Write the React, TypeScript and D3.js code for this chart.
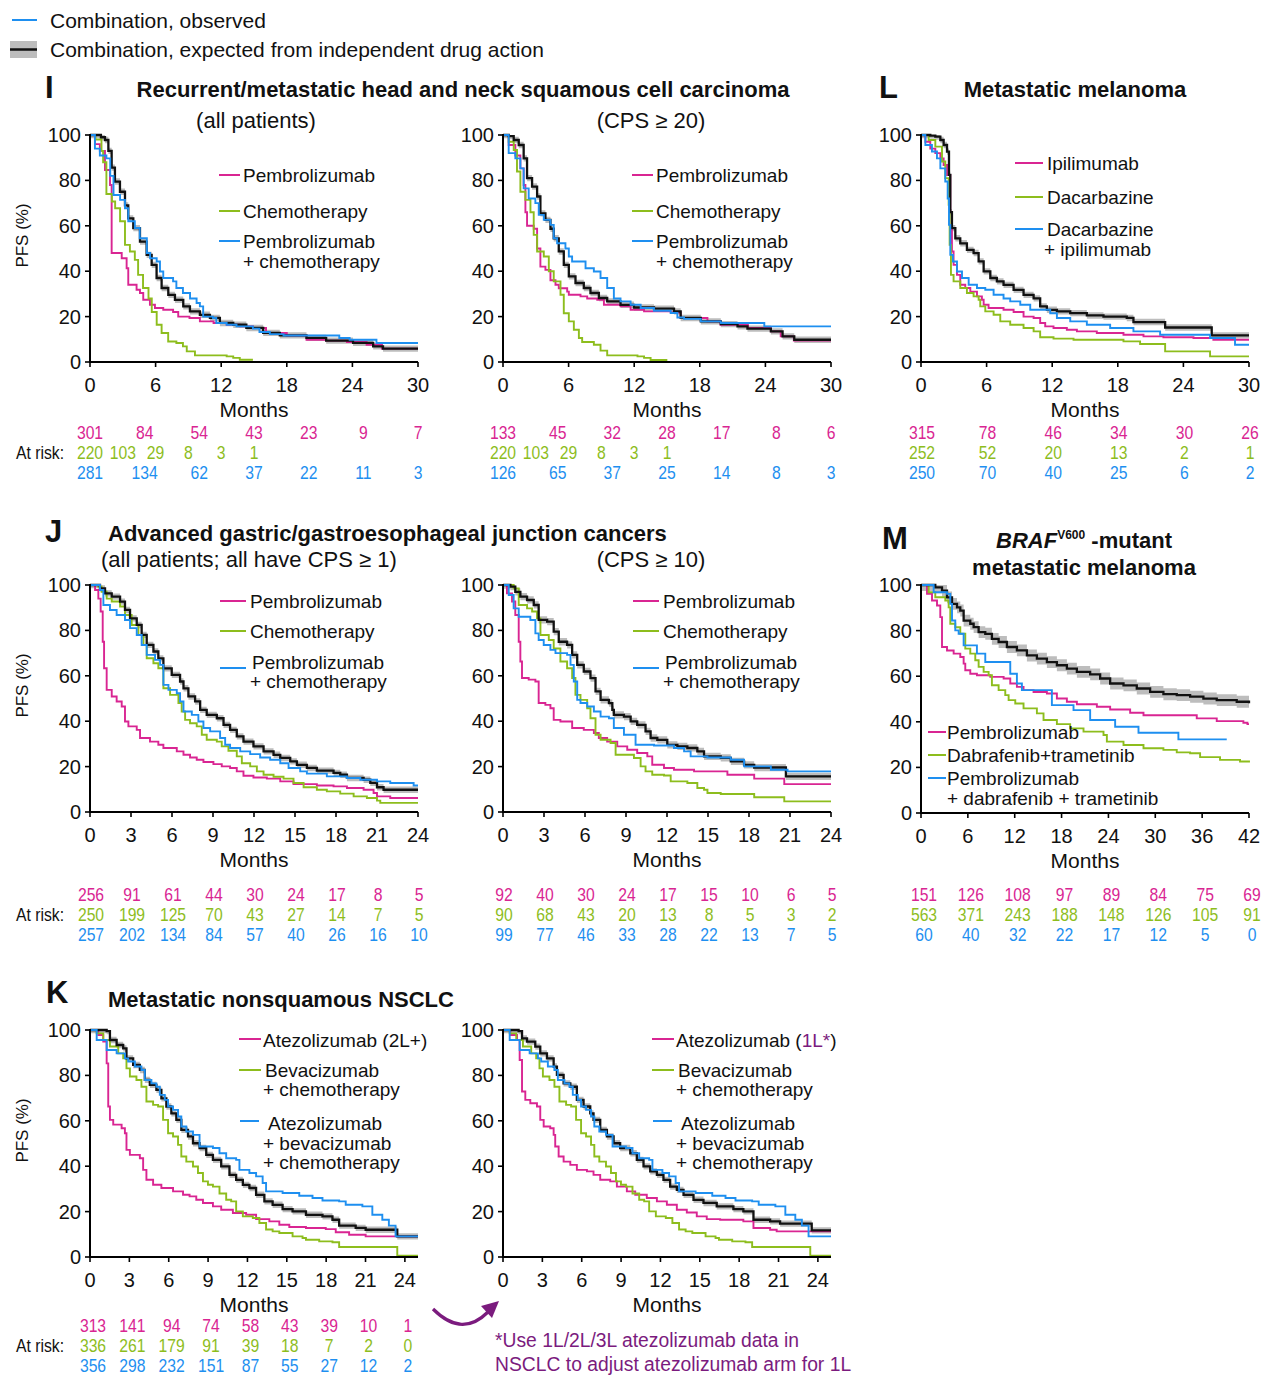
import * as d3 from "d3";
import type { ReactNode } from "react";

type Pt = [number, number];

const PINK = "#d92592";
const GREEN = "#8dbd1d";
const BLUE = "#1e8ff0";
const BLACK = "#111111";
const BAND = "#bdbdbd";
const PURPLE = "#7b1b7e";
const FONT = "'Liberation Sans', Arial, Helvetica, sans-serif";

// ---- I: head and neck, all patients (months, PFS %)
const hnAllPembro: Pt[] = [[0,100],[0.45,96],[0.9,93],[1.37,84.6],[1.83,78],[1.98,48],[2.9,45.7],[3.35,41.3],[3.5,34],[4.26,31.8],[4.57,30.4],[4.87,27.4],[5.48,25.2],[5.94,23.8],[6.7,23],[7.6,22],[8.07,20],[9.1,19.4],[10.05,17.9],[11.3,17.2],[12.5,16.4],[13.7,15.7],[14.9,15],[16.1,12.8],[18,11.7],[19.8,9.8],[21.6,9.4],[23.5,8.8],[25.3,7.6],[26.7,5.9],[30,5.9]];
const hnAllChemo: Pt[] = [[0,100],[0.5,98],[1.05,93],[1.2,88],[1.5,74],[2.0,70.7],[2.3,67.7],[2.75,62],[3.2,51.6],[3.65,48.7],[4.1,45],[4.4,38.4],[4.85,32.6],[5.35,28],[5.65,22],[6.1,16.4],[6.55,12.8],[7.15,9],[7.9,8.4],[8.5,6.9],[8.85,4.7],[9.6,2.9],[12.5,2.5],[13.1,1.8],[13.7,1],[14.9,1]];
const hnAllCombo: Pt[] = [[0,100],[0.45,94],[0.9,91],[1.5,89.7],[1.85,82],[2.15,73.6],[2.75,71.4],[3.2,67.7],[3.5,62],[4.1,59],[4.55,54.5],[5.2,48],[5.5,45.7],[6.1,44.3],[6.4,39.9],[6.7,37],[7.6,35.5],[7.9,32.6],[8.5,30.4],[9.15,28],[9.75,26],[10.05,24.5],[10.35,20],[11.25,19.4],[11.55,17.2],[12.5,16.4],[13.4,15.7],[14.9,14.7],[15.5,13.2],[16.45,12.3],[17.7,11.7],[22.8,10.6],[23.75,9.8],[26.2,8.4],[30,8.4]];
const hnAllExpected: Pt[] = [[0,100],[1.0,99],[1.37,97.8],[1.68,93],[1.98,85.6],[2.28,79.5],[2.74,75],[3.2,69],[3.5,63.3],[3.96,59],[4.57,53],[5.18,47.2],[5.64,42.8],[6.09,37],[6.55,32.6],[7.16,29.6],[7.77,27.4],[8.53,24.5],[9.14,22.3],[10.05,20.8],[10.97,19.4],[11.88,17.2],[13.1,16.4],[14.3,15],[15.84,12.8],[17.36,11.7],[19.8,10.6],[21.6,9.4],[24.06,8.4],[25.9,6.9],[26.8,5.9],[30,5.9]];

// ---- I: head and neck, CPS >= 20
const hnCpsPembro: Pt[] = [[0,100],[0.52,95.6],[1.13,91],[1.59,85.3],[1.89,78],[2.05,66],[2.2,60],[2.81,58.7],[3.12,50],[3.42,42],[3.88,40.6],[4.34,36],[4.8,34],[5.1,32.5],[5.87,31],[6.02,29.6],[7.09,28.9],[7.7,28],[8.62,27.4],[9.23,25.2],[10.75,24.5],[11.67,23],[12.9,22.3],[15.34,21.8],[16.25,19.4],[18.7,17.9],[19.9,16.4],[22.4,15],[24.5,13.5],[25.4,11.3],[26.6,9.4],[30,9.4]];
const hnCpsChemo: Pt[] = [[0,100],[0.52,97],[0.98,93.4],[1.28,83.9],[1.59,75],[2.05,71.4],[2.51,66],[2.81,56],[3.12,48.7],[3.73,46.5],[4.19,40],[4.64,35.5],[5.26,29.6],[5.56,21.5],[6.02,17.9],[6.48,14.2],[6.94,10.6],[7.24,8.8],[8.31,7.6],[8.92,5],[9.53,2.9],[12.3,2.5],[12.9,1.8],[13.5,0.9],[15.03,0.9]];
const hnCpsCombo: Pt[] = [[0,100],[0.52,92],[1.13,89.7],[1.59,85.3],[1.89,76.5],[2.35,72],[2.96,70],[3.27,64.8],[3.73,62.6],[4.34,60.4],[4.64,54.5],[4.95,52.3],[5.71,50],[6.02,46.5],[6.32,44.3],[7.55,41.3],[8.31,39.9],[8.92,37],[9.53,32.6],[10.14,28],[10.75,26.7],[11.67,25.2],[12.59,23.8],[13.81,22.6],[15.34,21.6],[15.95,19.6],[16.56,19],[18.09,17.9],[19.92,17.2],[23.9,15.7],[30,15.7]];
const hnCpsExpected: Pt[] = [[0,100],[0.52,99.5],[0.98,97.8],[1.44,95.6],[1.89,89.7],[2.2,81],[2.66,77.3],[3.12,72.9],[3.42,65.5],[3.88,62.6],[4.34,58.7],[4.64,54.5],[5.1,48.7],[5.56,42.8],[6.02,37.7],[6.63,34.8],[7.39,32.6],[8.0,30.4],[8.77,28.2],[9.53,26.7],[10.75,25.2],[11.98,24],[13.81,23.5],[15.64,22.3],[16.25,19.4],[18.09,17.9],[19.92,16.7],[21.45,15.7],[22.36,14.7],[24.5,13.5],[25.57,11.3],[26.64,9.8],[30,9.8]];

// ---- L: metastatic melanoma
const melIpi: Pt[] = [[0,100],[0.4,97],[0.85,94],[1.31,92],[1.77,89.7],[2.07,86.8],[2.38,82.4],[2.68,66],[2.83,48.7],[2.98,42.8],[3.29,38.4],[3.59,34],[4.05,32.6],[4.51,31],[5.12,28.9],[5.57,27.4],[5.73,25.2],[6.18,23.8],[7.55,23],[8.47,22],[9.38,20],[10.3,19.4],[10.9,17.2],[11.36,15.7],[12.12,15],[13.34,14.2],[14.26,13.5],[16.08,12.8],[18.52,12],[20.35,11.3],[22.17,10.9],[24.92,10.6],[26.74,9.8],[30,9.8]];
const melDac: Pt[] = [[0,100],[0.7,97.8],[1.31,94.9],[1.92,88.3],[2.22,81],[2.53,69.2],[2.62,51.6],[2.74,38.4],[2.98,35.5],[3.59,32.6],[4.2,30.4],[4.81,28.9],[5.27,27.4],[5.42,24.5],[5.88,22.3],[6.64,20.8],[7.25,17.9],[8.16,16.4],[9.38,15],[10.3,13.5],[10.9,10.9],[12.12,10.3],[13.95,9.8],[18.52,9.1],[20.04,7.9],[22.33,4.7],[26.44,2.5],[30,2.5]];
const melCombo: Pt[] = [[0,100],[0.4,95.6],[1.0,92.7],[1.46,89.7],[1.77,85.3],[2.22,79.5],[2.44,72],[2.56,60.4],[2.68,47.2],[2.92,44.3],[3.29,39.9],[3.75,37],[4.36,34],[5.12,32.6],[5.88,31.8],[6.64,29.6],[7.55,28],[8.16,26.7],[9.08,25.2],[9.99,23],[11.82,21.5],[12.43,19.4],[13.65,17.9],[15.17,16.4],[17.3,15],[19.43,13.5],[21.87,12],[26.44,10.6],[28.72,7.6],[30,7.6]];
const melExpected: Pt[] = [[0,100],[0.85,99.7],[1.31,99.3],[1.77,97.8],[2.07,95.6],[2.38,92.7],[2.56,82.4],[2.68,66],[2.83,59],[3.14,54.5],[3.59,52.3],[4.2,49.4],[4.81,48],[5.27,44.3],[5.73,39.9],[6.34,37],[6.94,35.5],[7.55,34],[8.47,31.8],[9.38,29.6],[10.3,28],[10.9,24.5],[11.51,23],[12.43,22.3],[13.65,21.5],[15.17,20.5],[16.69,20],[18.82,19.4],[19.43,17.6],[22.33,15.2],[26.59,11.7],[30,11.7]];

// ---- J: gastric, all patients
const gcAllPembro: Pt[] = [[0,100],[0.37,97.8],[0.61,94],[0.78,88.3],[0.93,75],[1.03,63.3],[1.22,53.8],[1.59,50.9],[1.95,48.7],[2.32,46.5],[2.56,39.9],[2.81,37.7],[3.42,36.2],[3.66,32.6],[4.39,31],[5.0,29.6],[5.37,28.2],[6.35,26.7],[6.84,25.2],[7.32,24],[7.81,23],[8.3,22],[9.03,21.1],[9.64,20.1],[10.25,19.4],[10.74,17.9],[11.23,16],[11.96,15.2],[12.94,14.7],[13.92,13.5],[14.89,12.3],[16.6,11.7],[17.82,11.3],[18.8,10.6],[20.02,9.8],[20.75,8.4],[21.0,6.9],[21.97,6.2],[24,6.2]];
const gcAllChemo: Pt[] = [[0,100],[0.61,99.3],[0.85,97],[1.22,94],[1.59,92.7],[2.2,90.5],[2.56,86.8],[3.05,82.4],[3.54,78],[3.91,73.6],[4.15,67.7],[4.64,65.5],[5.0,63.3],[5.37,54.5],[5.86,51.6],[6.47,48],[6.71,44.3],[6.96,40.6],[7.32,39.1],[7.81,37.7],[8.18,34],[8.54,31.8],[9.28,31],[9.64,28.9],[10.13,27],[10.74,24.5],[11.11,21.5],[11.72,20.1],[12.21,17.9],[12.7,16.4],[13.43,15.5],[14.16,14.7],[14.89,12.8],[15.63,10.9],[16.6,9.8],[17.33,9.1],[18.31,8.1],[19.29,6.9],[20.26,6.2],[21.0,5],[21.24,4],[24,4]];
const gcAllCombo: Pt[] = [[0,100],[0.73,97.8],[0.98,91.2],[1.46,89],[1.95,86.8],[2.56,84.6],[2.93,81],[3.42,78],[3.78,73.6],[4.15,69.2],[4.76,67],[5.13,64.8],[5.37,56],[5.74,53.8],[6.35,52.3],[6.59,48.7],[6.84,44.3],[7.45,42.8],[7.93,39.9],[8.3,37],[8.79,35.5],[9.52,32.6],[9.89,29.6],[10.25,28.2],[10.99,26.7],[11.72,25.5],[12.45,24],[13.18,23],[13.92,21.5],[14.53,19.4],[15.38,17.9],[15.87,16.9],[17.33,15.7],[18.8,15],[19.78,14.2],[21.0,13.5],[21.97,12.8],[23.68,11.7],[24,11.7]];
const gcAllExpected: Pt[] = [[0,100],[0.73,98.5],[1.1,96.3],[1.59,94.9],[2.2,92.7],[2.56,89],[2.93,85.3],[3.42,82.4],[3.78,78],[4.15,73.6],[4.64,70.7],[5.0,67.7],[5.37,63.3],[5.98,60.4],[6.59,57.5],[6.84,54.5],[7.2,50.9],[7.69,48.7],[8.06,45],[8.54,42.8],[9.28,41.3],[9.77,38.4],[10.25,36.2],[10.74,33.3],[11.23,31],[11.96,28.9],[12.7,26.7],[13.43,25.2],[13.92,23.8],[14.65,22.3],[15.14,20.8],[15.87,19.4],[16.6,18.2],[17.82,17.2],[18.31,16.4],[18.8,15],[20.02,14.2],[20.51,12.8],[21.0,10.9],[21.48,9.8],[24,9.8]];

// ---- J: gastric, CPS >= 10
const gcCpsPembro: Pt[] = [[0,100],[0.29,96.3],[0.66,92.7],[0.9,86.8],[1.15,75],[1.27,66.3],[1.39,59],[1.88,58.3],[2.37,57.5],[2.61,48],[3.1,47.2],[3.47,45.7],[3.71,40.6],[4.2,39.9],[5.06,37],[5.91,36.2],[6.65,34.8],[7.01,32.6],[7.62,31],[8.36,28.9],[9.09,27.4],[9.82,26],[10.56,24.5],[10.92,20.8],[11.78,19.4],[12.51,18.6],[13.98,17.9],[16.42,16.4],[18.38,14.7],[20.58,12.3],[24,12.3]];
const gcCpsChemo: Pt[] = [[0,100],[0.78,98.5],[1.15,91.2],[1.76,89.7],[2.13,88.3],[2.49,85.3],[2.74,78],[3.35,75.8],[3.71,72],[4.2,66.3],[4.69,63.3],[5.06,59],[5.3,51.6],[5.67,49.4],[6.16,45.7],[6.4,41.3],[6.77,34],[7.14,31.8],[7.87,30.4],[8.24,25.2],[9.58,23.8],[10.07,20.1],[10.43,17.9],[10.92,16.4],[11.78,16.1],[12.27,13.5],[13.49,12.8],[14.22,10.6],[14.71,9.8],[14.96,8.4],[15.93,7.9],[18.38,6.5],[20.58,4.7],[24,4.7]];
const gcCpsCombo: Pt[] = [[0,100],[0.42,95.6],[0.78,89.7],[1.15,86],[2.0,84.6],[2.37,78.7],[2.61,75.8],[2.98,73.6],[3.47,71.4],[3.84,70],[4.69,69.2],[4.94,64.8],[5.18,57.5],[5.43,49.4],[5.67,48],[6.16,46.5],[6.65,44.3],[7.14,42],[7.75,41.3],[8.11,37],[8.85,34],[9.7,29.6],[11.05,29.3],[12.51,28.2],[13.25,26.7],[13.73,24.5],[14.96,24],[16.67,23],[17.64,20.1],[19.6,18.6],[20.82,17.9],[24,17.9]];
const gcCpsExpected: Pt[] = [[0,100],[0.54,99.3],[0.9,97],[1.27,94.9],[1.76,93.4],[2.25,91.2],[2.61,84.6],[3.23,83.9],[3.71,79.5],[4.08,75],[4.69,73.6],[5.06,69.2],[5.43,64.8],[5.91,61.9],[6.4,59],[6.77,53.1],[7.14,49.4],[7.75,48],[8.0,45],[8.11,42.8],[8.85,42],[9.34,39.9],[9.82,38.4],[10.43,35.5],[10.8,32.6],[11.29,31.8],[12.02,29.6],[12.76,28.9],[13.49,28.2],[14.22,26.7],[14.71,24.5],[15.93,23.8],[16.67,22.3],[17.64,20.8],[18.38,19.6],[20.7,15.7],[24,15.7]];

// ---- M: BRAF V600-mutant melanoma
const brafPembro: Pt[] = [[0,100],[0.77,96.1],[1.41,93.2],[2.05,91],[2.47,85.9],[2.69,72.8],[3.33,71.3],[4.18,69.9],[5.03,68.4],[5.46,65.5],[5.67,62.6],[6.31,61.1],[7.16,60.4],[8.87,59.7],[10.58,59],[11.43,56.8],[12.28,55.3],[13.13,53.9],[14.41,53.1],[16.12,52.4],[17.4,50.2],[18.68,48.8],[19.96,47.7],[22.52,46.6],[24.22,45.4],[26.78,44],[28.49,42.9],[35.31,41.5],[37.87,40.3],[41.28,39.6],[41.8,39],[42,39]];
const brafDabTram: Pt[] = [[0,100],[0.98,96.8],[1.83,94.6],[3.11,93.2],[3.54,90.2],[3.75,83],[4.39,81.5],[5.03,78.6],[5.67,72.1],[6.31,69.9],[6.95,67],[7.38,64.1],[8.02,61.9],[8.66,60.4],[9.08,56],[9.94,53.9],[10.79,51.7],[11.22,49.5],[12.07,48],[13.13,45.9],[14.84,43.7],[15.69,40.8],[17.4,39],[19.1,37.1],[20.81,35.7],[23.37,34.2],[23.8,31.3],[25.93,29.8],[28.49,28.4],[31.04,27.7],[32.75,26.6],[34.46,26.2],[35.74,24.5],[38.29,23.3],[40.85,22.6],[42,22.1]];
const brafCombo: Pt[] = [[0,100],[1.62,96.8],[3.33,96.1],[3.75,91.7],[3.97,84.4],[4.39,80.1],[4.82,78.6],[5.46,73.5],[7.16,69.9],[8.23,66.2],[11.43,61.1],[12.28,56.8],[12.92,53.9],[16.76,47.3],[19.53,45.1],[21.66,40.8],[24.86,37.8],[27.85,35.2],[32.96,32.3],[39.15,32.3]];
const brafExpected: Pt[] = [[0,100],[1.83,99],[2.69,97.5],[3.33,94.6],[3.97,91.7],[4.61,90.2],[5.03,88.8],[5.46,84.4],[6.31,83],[6.74,81.5],[7.38,79.3],[8.23,78.6],[9.08,76.4],[9.94,75],[11.0,72.8],[12.28,71.3],[13.56,69.1],[14.84,67.7],[16.12,66.2],[17.4,64.8],[18.68,63.3],[19.96,61.9],[21.66,60.8],[22.94,59],[24.22,56.8],[25.93,56],[27.63,54.6],[29.34,53.1],[31.04,52.1],[32.75,51.7],[34.46,51],[36.16,50.2],[37.87,49.5],[40.43,48.8],[42,48.1]];

// ---- K: nonsquamous NSCLC
const nsclcAtezo2L: Pt[] = [[0,100],[0.63,97.8],[1.01,94.9],[1.27,85.3],[1.39,66.3],[1.52,60.4],[1.77,58.3],[2.41,56.7],[2.66,54.5],[2.78,47.2],[3.04,45],[3.8,43.5],[4.05,38.4],[4.3,34],[4.81,31.8],[5.44,30.4],[6.33,28.9],[7.09,27.4],[7.59,26.7],[8.1,25.2],[8.61,23.8],[9.37,22.3],[10.0,20.8],[10.89,19.4],[11.9,18.6],[12.66,16.7],[13.67,15.7],[14.43,14.2],[15.19,13.2],[16.46,12.8],[17.97,12.3],[18.73,10.9],[19.75,9.8],[21.01,9.1],[25,9.1]];
const nsclcBevChemo: Pt[] = [[0,100],[0.51,98.5],[1.01,95.6],[1.52,92.7],[2.15,89.7],[2.53,87.5],[2.78,83.1],[3.04,79.5],[3.54,78],[3.92,75],[4.3,68.5],[4.81,67],[5.19,66.3],[5.57,60.4],[5.95,54.5],[6.33,53.1],[6.71,49.4],[6.96,44.3],[7.34,42],[7.85,39.9],[8.23,37],[8.61,33.3],[8.99,31.8],[9.37,31],[9.87,28],[10.38,25.2],[10.76,24.5],[11.14,20.1],[11.65,17.9],[12.41,17.2],[12.91,15],[13.42,12.1],[13.92,11.3],[14.43,10.6],[15.44,9.1],[16.2,8.4],[16.46,7.6],[17.47,6.9],[18.48,6.5],[18.99,4.4],[23.42,0.6],[25,0.6]];
const nsclcCombo: Pt[] = [[0,100],[0.51,95.6],[1.27,91.2],[2.03,89.7],[2.66,87.5],[2.91,86.1],[3.42,83.9],[3.92,82.4],[4.18,78],[4.68,76.5],[5.06,75],[5.32,71.4],[5.7,69.2],[5.95,66.3],[6.33,64.8],[6.71,61.9],[6.96,57.5],[7.34,55.3],[7.85,53.8],[8.35,48.7],[9.37,48],[9.87,45.7],[10.38,43.5],[11.14,42.8],[11.39,38.4],[12.15,37],[12.66,35.5],[13.16,32.6],[13.42,28.9],[14.68,28.2],[15.95,27],[16.96,26],[17.72,24.9],[18.99,24.5],[19.49,23],[20.76,22.3],[21.52,18.6],[22.28,16.4],[22.78,13.8],[23.29,9.1],[25,9.1]];
const nsclcExpected2L: Pt[] = [[0,100],[1.27,99.5],[1.52,95.6],[2.03,93.4],[2.53,91.9],[2.78,87.5],[3.29,84.6],[3.8,82.4],[4.18,78],[4.56,75.8],[5.06,73.6],[5.44,69.9],[5.82,66.3],[6.2,63.3],[6.58,60.4],[6.96,56],[7.47,53.1],[7.85,50.1],[8.35,48],[8.86,45],[9.37,42.8],[10.0,39.9],[10.63,36.2],[11.14,34],[11.65,31.8],[12.15,30.4],[12.66,27.4],[13.29,24.5],[13.92,23],[14.68,21.1],[15.44,20.1],[16.46,18.6],[17.72,17.9],[18.48,16.4],[18.99,13.8],[20.25,12.8],[21.01,12],[23.42,9.1],[25,9.1]];
const nsclcAtezo1L: Pt[] = [[0,100],[0.56,97.8],[1.07,95.6],[1.27,86.8],[1.45,72.9],[1.7,69.2],[2.08,67.7],[2.59,66.3],[2.84,60.4],[3.1,57.5],[3.6,56.7],[3.86,53.8],[3.98,48.7],[4.24,44.3],[4.62,42],[5.13,40.6],[5.63,38.4],[6.4,37.7],[6.9,36.2],[7.41,34],[8.17,33.3],[8.68,31],[9.44,28.9],[10.08,27.4],[10.96,26],[11.73,24.5],[12.49,23],[13.25,20.8],[14.01,19.6],[14.77,17.9],[15.53,16.7],[16.55,16.4],[18.32,15.7],[19.09,12.8],[20.36,12],[20.86,11.3],[25,11.3]];
const nsclcExpected1L: Pt[] = [[0,100],[1.19,99.5],[1.45,96.3],[1.83,94.9],[2.46,92.7],[2.84,89.7],[3.35,87.5],[3.86,83.9],[4.11,80.2],[4.62,76.5],[5.13,75],[5.63,69.2],[6.14,66.3],[6.65,63.3],[6.9,60.4],[7.41,56],[7.92,53.1],[8.43,50.1],[8.93,48],[9.7,45.7],[10.2,42.8],[10.71,39.9],[11.22,37.7],[11.73,36.2],[12.23,34],[12.74,31],[13.25,29.6],[13.76,27.4],[14.52,25.2],[15.28,23.8],[16.29,22.3],[17.56,21.1],[18.32,20.1],[19.09,16.4],[20.36,15.7],[21.12,14.7],[23.53,11.7],[25,11.7]];

// ---- ticks and numbers at risk
const yTicks = [0, 20, 40, 60, 80, 100];
const ticks30 = [0, 6, 12, 18, 24, 30];
const ticks24 = [0, 3, 6, 9, 12, 15, 18, 21, 24];
const ticks42 = [0, 6, 12, 18, 24, 30, 36, 42];

const hnRiskTimes5 = [0, 5, 10, 15, 20, 25, 30];
const hnRiskTimes3 = [0, 3, 6, 9, 12, 15];
const hnAllRiskPembro = [301, 84, 54, 43, 23, 9, 7];
const hnAllRiskChemo = [220, 103, 29, 8, 3, 1];
const hnAllRiskCombo = [281, 134, 62, 37, 22, 11, 3];
const hnCpsRiskPembro = [133, 45, 32, 28, 17, 8, 6];
const hnCpsRiskChemo = [220, 103, 29, 8, 3, 1];
const hnCpsRiskCombo = [126, 65, 37, 25, 14, 8, 3];
const melRiskTimes = [0, 6, 12, 18, 24, 30];
const melRiskIpi = [315, 78, 46, 34, 30, 26];
const melRiskDac = [252, 52, 20, 13, 2, 1];
const melRiskCombo = [250, 70, 40, 25, 6, 2];
const gcAllRiskPembro = [256, 91, 61, 44, 30, 24, 17, 8, 5];
const gcAllRiskChemo = [250, 199, 125, 70, 43, 27, 14, 7, 5];
const gcAllRiskCombo = [257, 202, 134, 84, 57, 40, 26, 16, 10];
const gcCpsRiskPembro = [92, 40, 30, 24, 17, 15, 10, 6, 5];
const gcCpsRiskChemo = [90, 68, 43, 20, 13, 8, 5, 3, 2];
const gcCpsRiskCombo = [99, 77, 46, 33, 28, 22, 13, 7, 5];
const brafRiskPembro = [151, 126, 108, 97, 89, 84, 75, 69];
const brafRiskDabTram = [563, 371, 243, 188, 148, 126, 105, 91];
const brafRiskCombo = [60, 40, 32, 22, 17, 12, 5, 0];
const nsclcRiskAtezo = [313, 141, 94, 74, 58, 43, 39, 10, 1];
const nsclcRiskBevChemo = [336, 261, 179, 91, 39, 18, 7, 2, 0];
const nsclcRiskCombo = [356, 298, 232, 151, 87, 55, 27, 12, 2];

type Legend = { color: string; x1: number; x2: number; y: number; lines: [number, number, ReactNode][] };
type Risk = { color: string; times: number[]; vals: number[]; dx?: number };
type PanelDef = {
  x0: number; top: number; bottom: number; xMax: number; xTicks: number[];
  pink: Pt[]; green: Pt[]; blue: Pt[]; black: Pt[]; band: number;
  pfs: boolean; riskY: number; risk: Risk[]; legend: Legend[];
};

const W = 328;

const hnLegend = (dx: number): Legend[] => [
  { color: PINK, x1: 219 + dx, x2: 240 + dx, y: 175, lines: [[243 + dx, 182, "Pembrolizumab"]] },
  { color: GREEN, x1: 219 + dx, x2: 240 + dx, y: 211, lines: [[243 + dx, 218, "Chemotherapy"]] },
  { color: BLUE, x1: 219 + dx, x2: 240 + dx, y: 241, lines: [[243 + dx, 248, "Pembrolizumab"], [243 + dx, 268, "+ chemotherapy"]] },
];
const gcLegend = (dx: number): Legend[] => [
  { color: PINK, x1: 220 + dx, x2: 246 + dx, y: 601, lines: [[250 + dx, 608, "Pembrolizumab"]] },
  { color: GREEN, x1: 220 + dx, x2: 246 + dx, y: 631, lines: [[250 + dx, 638, "Chemotherapy"]] },
  { color: BLUE, x1: 220 + dx, x2: 246 + dx, y: 668, lines: [[252 + dx, 669, "Pembrolizumab"], [250 + dx, 688, "+ chemotherapy"]] },
];
const nsclcLegend = (dx: number, first: ReactNode): Legend[] => [
  { color: PINK, x1: 239 + dx, x2: 261 + dx, y: 1039, lines: [[263 + dx, 1047, first]] },
  { color: GREEN, x1: 239 + dx, x2: 261 + dx, y: 1070, lines: [[265 + dx, 1077, "Bevacizumab"], [263 + dx, 1096, "+ chemotherapy"]] },
  { color: BLUE, x1: 240 + dx, x2: 259 + dx, y: 1121, lines: [[268 + dx, 1130, "Atezolizumab"], [263 + dx, 1150, "+ bevacizumab"], [263 + dx, 1169, "+ chemotherapy"]] },
];

const panels: PanelDef[] = [
  {
    x0: 90, top: 135, bottom: 362, xMax: 30, xTicks: ticks30,
    pink: hnAllPembro, green: hnAllChemo, blue: hnAllCombo, black: hnAllExpected, band: 1.4,
    pfs: true, riskY: 439,
    risk: [
      { color: PINK, times: hnRiskTimes5, vals: hnAllRiskPembro },
      { color: GREEN, times: hnRiskTimes3, vals: hnAllRiskChemo },
      { color: BLUE, times: hnRiskTimes5, vals: hnAllRiskCombo },
    ],
    legend: hnLegend(0),
  },
  {
    x0: 503, top: 135, bottom: 362, xMax: 30, xTicks: ticks30,
    pink: hnCpsPembro, green: hnCpsChemo, blue: hnCpsCombo, black: hnCpsExpected, band: 1.4,
    pfs: false, riskY: 439,
    risk: [
      { color: PINK, times: hnRiskTimes5, vals: hnCpsRiskPembro },
      { color: GREEN, times: hnRiskTimes3, vals: hnCpsRiskChemo },
      { color: BLUE, times: hnRiskTimes5, vals: hnCpsRiskCombo },
    ],
    legend: hnLegend(413),
  },
  {
    x0: 921, top: 135, bottom: 362, xMax: 30, xTicks: ticks30,
    pink: melIpi, green: melDac, blue: melCombo, black: melExpected, band: 1.4,
    pfs: false, riskY: 439,
    risk: [
      { color: PINK, times: melRiskTimes, vals: melRiskIpi, dx: 1 },
      { color: GREEN, times: melRiskTimes, vals: melRiskDac, dx: 1 },
      { color: BLUE, times: melRiskTimes, vals: melRiskCombo, dx: 1 },
    ],
    legend: [
      { color: PINK, x1: 1015, x2: 1043, y: 163, lines: [[1047, 170, "Ipilimumab"]] },
      { color: GREEN, x1: 1015, x2: 1043, y: 197, lines: [[1047, 204, "Dacarbazine"]] },
      { color: BLUE, x1: 1015, x2: 1043, y: 229, lines: [[1047, 236, "Dacarbazine"], [1044, 256, "+ ipilimumab"]] },
    ],
  },
  {
    x0: 90, top: 585, bottom: 812, xMax: 24, xTicks: ticks24,
    pink: gcAllPembro, green: gcAllChemo, blue: gcAllCombo, black: gcAllExpected, band: 1.4,
    pfs: true, riskY: 901,
    risk: [
      { color: PINK, times: ticks24, vals: gcAllRiskPembro, dx: 1 },
      { color: GREEN, times: ticks24, vals: gcAllRiskChemo, dx: 1 },
      { color: BLUE, times: ticks24, vals: gcAllRiskCombo, dx: 1 },
    ],
    legend: gcLegend(0),
  },
  {
    x0: 503, top: 585, bottom: 812, xMax: 24, xTicks: ticks24,
    pink: gcCpsPembro, green: gcCpsChemo, blue: gcCpsCombo, black: gcCpsExpected, band: 1.6,
    pfs: false, riskY: 901,
    risk: [
      { color: PINK, times: ticks24, vals: gcCpsRiskPembro, dx: 1 },
      { color: GREEN, times: ticks24, vals: gcCpsRiskChemo, dx: 1 },
      { color: BLUE, times: ticks24, vals: gcCpsRiskCombo, dx: 1 },
    ],
    legend: gcLegend(413),
  },
  {
    x0: 921, top: 585, bottom: 813, xMax: 42, xTicks: ticks42,
    pink: brafPembro, green: brafDabTram, blue: brafCombo, black: brafExpected, band: 2.6,
    pfs: false, riskY: 901,
    risk: [
      { color: PINK, times: ticks42, vals: brafRiskPembro, dx: 3 },
      { color: GREEN, times: ticks42, vals: brafRiskDabTram, dx: 3 },
      { color: BLUE, times: ticks42, vals: brafRiskCombo, dx: 3 },
    ],
    legend: [
      { color: PINK, x1: 928, x2: 946, y: 732, lines: [[947, 739, "Pembrolizumab"]] },
      { color: GREEN, x1: 928, x2: 946, y: 755, lines: [[947, 762, "Dabrafenib+trametinib"]] },
      { color: BLUE, x1: 928, x2: 946, y: 778, lines: [[947, 785, "Pembrolizumab"], [947, 805, "+ dabrafenib + trametinib"]] },
    ],
  },
  {
    x0: 90, top: 1030, bottom: 1257, xMax: 25, xTicks: ticks24,
    pink: nsclcAtezo2L, green: nsclcBevChemo, blue: nsclcCombo, black: nsclcExpected2L, band: 1.4,
    pfs: true, riskY: 1332,
    risk: [
      { color: PINK, times: ticks24, vals: nsclcRiskAtezo, dx: 3 },
      { color: GREEN, times: ticks24, vals: nsclcRiskBevChemo, dx: 3 },
      { color: BLUE, times: ticks24, vals: nsclcRiskCombo, dx: 3 },
    ],
    legend: nsclcLegend(0, "Atezolizumab (2L+)"),
  },
  {
    x0: 503, top: 1030, bottom: 1257, xMax: 25, xTicks: ticks24,
    pink: nsclcAtezo1L, green: nsclcBevChemo, blue: nsclcCombo, black: nsclcExpected1L, band: 1.4,
    pfs: false, riskY: 0, risk: [],
    legend: nsclcLegend(
      413,
      <>
        {"Atezolizumab ("}
        <tspan fill={PURPLE}>1L*</tspan>
        {")"}
      </>
    ),
  },
];

function Panel({ p }: { p: PanelDef }) {
  const x = d3.scaleLinear().domain([0, p.xMax]).range([p.x0, p.x0 + W]);
  const y = d3.scaleLinear().domain([0, 100]).range([p.bottom, p.top]);
  const line = d3.line<Pt>().x((d) => x(d[0])).y((d) => y(d[1])).curve(d3.curveStepAfter);
  const band = d3
    .area<Pt>()
    .x((d) => x(d[0]))
    .y0((d) => y(Math.max(0, d[1] - p.band)))
    .y1((d) => y(Math.min(100, d[1] + p.band)))
    .curve(d3.curveStepAfter);
  const mid = p.x0 + W / 2;
  return (
    <g>
      <path d={band(p.black) ?? ""} fill={BAND} />
      <path d={line(p.pink) ?? ""} fill="none" stroke={PINK} strokeWidth={1.9} />
      <path d={line(p.green) ?? ""} fill="none" stroke={GREEN} strokeWidth={1.9} />
      <path d={line(p.black) ?? ""} fill="none" stroke={BLACK} strokeWidth={2.3} />
      <path d={line(p.blue) ?? ""} fill="none" stroke={BLUE} strokeWidth={1.9} />

      {/* axes */}
      <line x1={p.x0} x2={p.x0} y1={y(100) - 1} y2={y(0) + 1} stroke="#000" strokeWidth={2} />
      <line x1={p.x0 - 1} x2={p.x0 + W} y1={y(0)} y2={y(0)} stroke="#000" strokeWidth={2} />
      {yTicks.map((t) => (
        <g key={"y" + t}>
          <line x1={p.x0 - 5} x2={p.x0} y1={y(t)} y2={y(t)} stroke="#000" strokeWidth={1.6} />
          <text x={p.x0 - 9} y={y(t) + 7} textAnchor="end" fontSize={20}>{t}</text>
        </g>
      ))}
      {p.xTicks.map((t) => (
        <g key={"x" + t}>
          <line x1={x(t)} x2={x(t)} y1={y(0)} y2={y(0) + 5} stroke="#000" strokeWidth={1.6} />
          <text x={x(t)} y={p.bottom + 30} textAnchor="middle" fontSize={20}>{t}</text>
        </g>
      ))}
      <text x={mid} y={p.bottom + 55} textAnchor="middle" fontSize={21}>Months</text>
      {p.pfs && (
        <text transform={`translate(28,${(p.top + p.bottom) / 2 - 13}) rotate(-90)`} textAnchor="middle" fontSize={17}>
          PFS (%)
        </text>
      )}

      {/* legend */}
      {p.legend.map((l, i) => (
        <g key={"l" + i}>
          <line x1={l.x1} x2={l.x2} y1={l.y} y2={l.y} stroke={l.color} strokeWidth={2} />
          {l.lines.map(([tx, ty, s], j) => (
            <text key={j} x={tx} y={ty} fontSize={19}>{s}</text>
          ))}
        </g>
      ))}

      {/* numbers at risk */}
      {p.risk.map((r, i) =>
        r.vals.map((v, j) => (
          <text
            key={`r${i}-${j}`}
            transform={`translate(${x(r.times[j]) + (r.dx ?? 0)},${p.riskY + i * 20}) scale(0.85,1)`}
            textAnchor="middle"
            fontSize={18.5}
            fill={r.color}
          >
            {v}
          </text>
        ))
      )}
      {p.pfs && p.risk.length > 0 && (
        <text transform={`translate(16,${p.riskY + 20}) scale(0.85,1)`} fontSize={18.5}>At risk:</text>
      )}
    </g>
  );
}

export default function App() {
  return (
    <svg
      width={1263}
      height={1376}
      viewBox="0 0 1263 1376"
      style={{ position: "absolute", left: 0, top: 0, background: "#fff" }}
      fontFamily={FONT}
      fill="#111"
    >
      <rect width={1263} height={1376} fill="#fff" />

      {/* global legend */}
      <line x1={12} x2={37} y1={20} y2={20} stroke={BLUE} strokeWidth={2} />
      <text x={50} y={28} fontSize={21}>Combination, observed</text>
      <rect x={10} y={41} width={27} height={17} fill={BAND} />
      <line x1={10} x2={37} y1={49.5} y2={49.5} stroke={BLACK} strokeWidth={2.5} />
      <text x={50} y={57} fontSize={21}>Combination, expected from independent drug action</text>

      {/* panel letters and titles */}
      <g fontWeight="bold">
        <text x={45} y={98} fontSize={31}>I</text>
        <text x={879} y={98} fontSize={31}>L</text>
        <text x={45} y={542} fontSize={31}>J</text>
        <text x={882} y={549} fontSize={31}>M</text>
        <text x={46} y={1003} fontSize={31}>K</text>
        <text x={463} y={97} fontSize={22} textAnchor="middle">Recurrent/metastatic head and neck squamous cell carcinoma</text>
        <text x={1075} y={97} fontSize={22} textAnchor="middle">Metastatic melanoma</text>
        <text x={108} y={541} fontSize={22}>Advanced gastric/gastroesophageal junction cancers</text>
        <text x={1084} y={548} fontSize={22} textAnchor="middle">
          <tspan fontStyle="italic">BRAF</tspan>
          <tspan fontSize={12} dy={-9}>V600</tspan>
          <tspan dy={9}> -mutant</tspan>
        </text>
        <text x={1084} y={575} fontSize={22} textAnchor="middle">metastatic melanoma</text>
        <text x={108} y={1007} fontSize={22}>Metastatic nonsquamous NSCLC</text>
      </g>
      <text x={256} y={128} fontSize={22} textAnchor="middle">(all patients)</text>
      <text x={651} y={128} fontSize={22} textAnchor="middle">(CPS ≥ 20)</text>
      <text x={101} y={567} fontSize={22}>(all patients; all have CPS ≥ 1)</text>
      <text x={651} y={567} fontSize={22} textAnchor="middle">(CPS ≥ 10)</text>

      {panels.map((p, i) => (
        <Panel key={i} p={p} />
      ))}

      {/* arrow and footnote */}
      <path d="M433,1309 Q462,1338 488,1312" fill="none" stroke={PURPLE} strokeWidth={3.2} />
      <polygon points="499,1301 481,1306 492,1318" fill={PURPLE} />
      <g fill={PURPLE} fontSize={21}>
        <text transform="translate(495,1347) scale(0.92,1)">*Use 1L/2L/3L atezolizumab data in</text>
        <text transform="translate(495,1371) scale(0.92,1)">NSCLC to adjust atezolizumab arm for 1L</text>
      </g>
    </svg>
  );
}
